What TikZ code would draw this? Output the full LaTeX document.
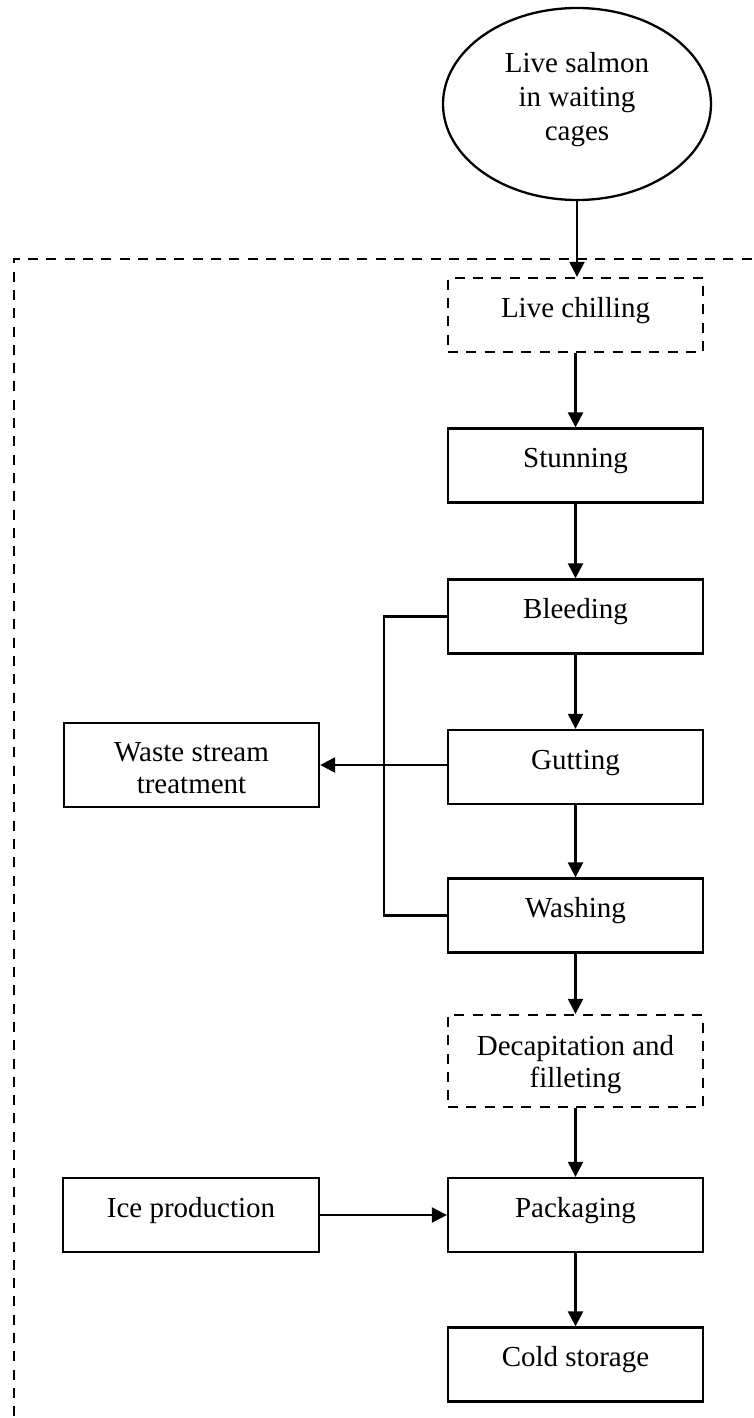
\documentclass[tikz,border=0pt]{standalone}
\usepackage{fontspec}
\setmainfont{Liberation Serif}
\usetikzlibrary{shapes.geometric,arrows.meta}
\begin{document}
\begin{tikzpicture}[x=1pt,y=-1pt,
  every node/.style={font=\fontsize{29}{32}\selectfont},
  lw/.style={line width=2.3pt},
  box/.style={draw,lw,rectangle,inner sep=0pt,minimum width=255pt,minimum height=74pt,
    align=center,text height=19pt,text depth=15pt},
  dbox/.style={box,dash pattern=on 10pt off 8.3pt},
  arr/.style={lw,-{Triangle[length=15pt,width=15pt]}},
  conn/.style={lw}]
\clip (0,0) rectangle (753,1418);
\fill[white] (0,0) rectangle (753,1418);
% outer dashed frame
\coordinate (frTR) at (770,259);
\coordinate (frTL) at (14,259);
\coordinate (frBL) at (14,1440);
\draw[lw,dash pattern=on 10pt off 8.3pt] (frTR) -- (frTL) -- (frBL);
% nodes
\node[draw,lw,ellipse,inner sep=0pt,minimum width=268pt,minimum height=192pt,align=center,
  font=\fontsize{29}{34}\selectfont,text height=80pt,text depth=8pt] (ell) at (577,104) {Live salmon\\in waiting\\cages};
\node[dbox] (chill) at (575.5,315) {Live chilling};
\node[box] (stun) at (575.5,465.5) {Stunning};
\node[box] (bleed) at (575.5,616.5) {Bleeding};
\node[box] (gut) at (575.5,767) {Gutting};
\node[box] (wash) at (575.5,915.5) {Washing};
\node[dbox,minimum height=92pt,text height=52pt,text depth=0pt] (decap) at (575.5,1061) {Decapitation and\\filleting};
\node[box] (pack) at (575.5,1215) {Packaging};
\node[box] (cold) at (575.5,1364.5) {Cold storage};
\node[box,minimum height=84pt,text height=56pt,text depth=0pt] (waste) at (191.5,765) {Waste stream\\treatment};
\node[box,minimum width=256pt] (ice) at (191,1215) {Ice production};
\coordinate (jx) at (384,0);
% connectors
\draw[arr] (ell.south) -- (ell.south |- chill.north);
\draw[arr] (chill) -- (stun);
\draw[arr] (stun) -- (bleed);
\draw[arr] (bleed) -- (gut);
\draw[arr] (gut) -- (wash);
\draw[arr] (wash) -- (decap);
\draw[arr] (decap) -- (pack);
\draw[arr] (pack) -- (cold);
\draw[conn] (bleed.west) -| (jx |- wash.west) -- (wash.west);
\draw[arr] (waste.east -| gut.west) -- (waste.east);
\draw[arr] (ice.east) -- (pack.west);
\end{tikzpicture}
\end{document}
